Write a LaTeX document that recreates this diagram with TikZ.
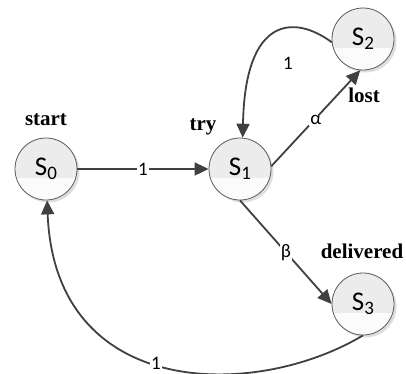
\documentclass[tikz,border=0pt]{standalone}
\usepackage{fontspec}
\setmainfont{Carlito}
\newfontfamily\titlefont{Liberation Serif}
\usetikzlibrary{arrows.meta,shadows}
\definecolor{edgecol}{HTML}{404040}
\definecolor{ringcol}{HTML}{5A5A5A}
\definecolor{topfill}{HTML}{ECECEC}
\definecolor{botfill}{HTML}{FBFBFB}
\definecolor{shadecol}{HTML}{D6D6D6}
\newcommand{\stname}[1]{S\raisebox{-4pt}{\fontsize{19}{19}\selectfont #1}}
\begin{document}
\begin{tikzpicture}[x=1pt,y=-1pt,
  state/.style={circle, draw=ringcol, line width=0.8pt, minimum size=62pt, inner sep=0pt,
    fill=topfill, font=\fontsize{27}{27}\selectfont,
    drop shadow={shadow xshift=2.5pt, shadow yshift=-2.5pt, fill=shadecol, opacity=0.8},
    path picture={\fill[botfill] ([yshift=-9pt]path picture bounding box.west) rectangle (path picture bounding box.south east);}},
  edgeline/.style={draw=edgecol, line width=1.8pt, -{Triangle[length=14pt,width=13pt]}},
  lbl/.style={fill=white, inner sep=1pt, font=\fontsize{19}{19}\selectfont, text=black},
  title/.style={font=\titlefont\bfseries\fontsize{21}{21}\selectfont, inner sep=0pt}]
\useasboundingbox (0,0) rectangle (406,373);
\node[state] (S0) at (46,169) {\stname{0}};
\node[state] (S1) at (240,169) {\stname{1}};
\node[state] (S2) at (363,39) {\stname{2}};
\node[state] (S3) at (363,304) {\stname{3}};
\node[title] (t0) at (46,120) {start};
\node[title] (t1) at (203,127) {try};
\node[title] (t2) at (364,95) {lost};
\node[title] (t3) at (362,251) {delivered};
\draw[edgeline] (S0.east) -- node[lbl] (e01) {1} (S1.west);
\draw[edgeline] (S1.5) -- node[lbl, pos=0.5, yshift=-2pt] (e12) {α} (S2.265);
\draw[edgeline] (S1.south) -- node[lbl] (e13) {β} (S3.west);
\draw[edgeline] (S2.186) .. controls (295,15) and (245,15) .. (S1.85);
\node[lbl, fill=none] (e21) at (288,63) {1};
\draw[edgeline] (S3.south) .. controls (255,400) and (55,400) .. node[lbl, pos=0.53] (e30) {1} (S0.272);
\end{tikzpicture}
\end{document}
